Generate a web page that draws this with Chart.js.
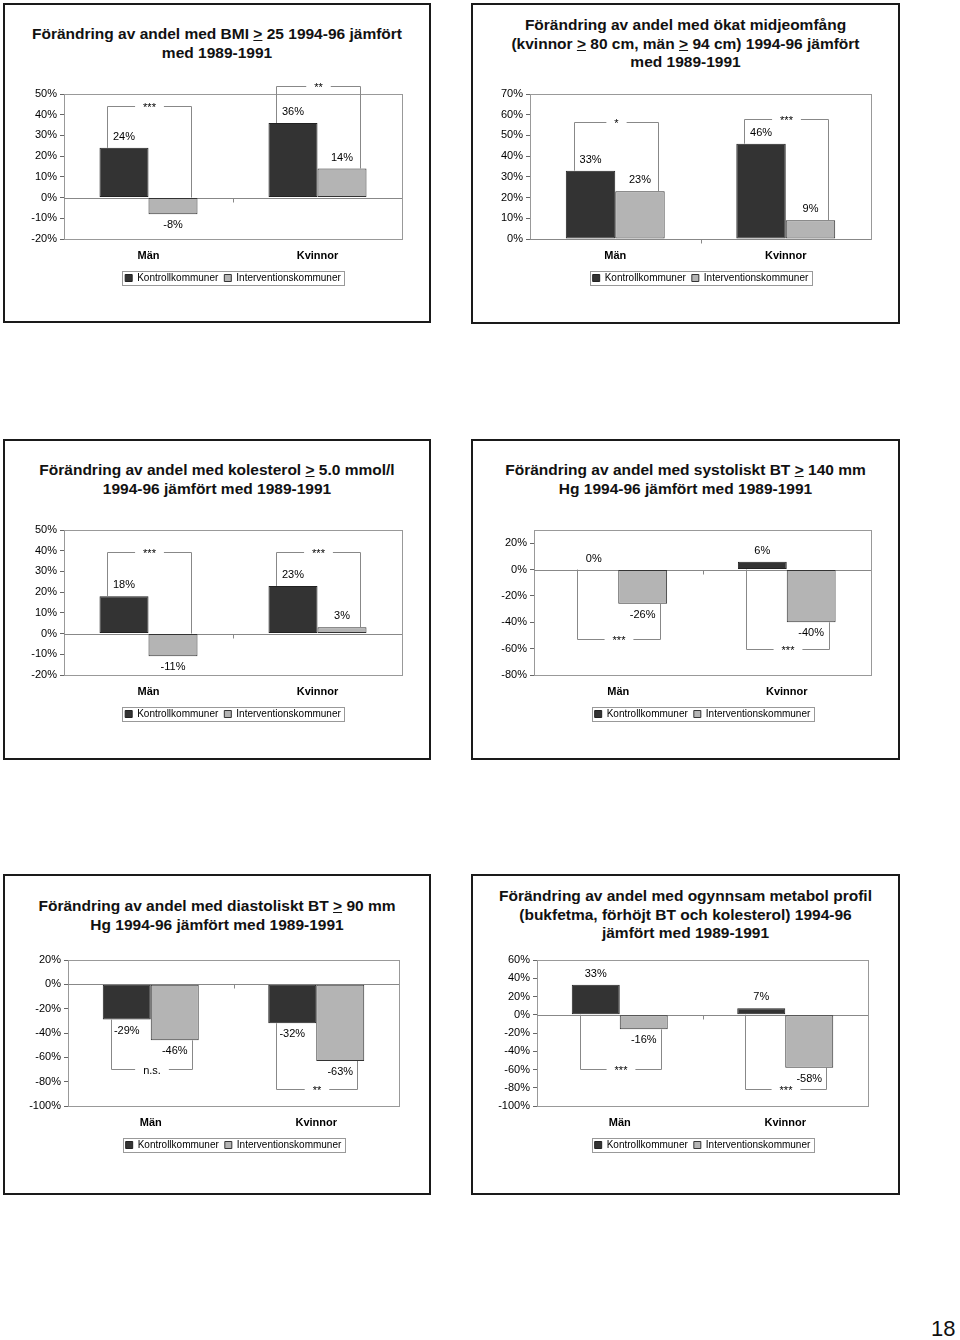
<!DOCTYPE html>
<html>
<head>
<meta charset="utf-8">
<script src="https://cdn.jsdelivr.net/npm/chart.js@4.4.1/dist/chart.umd.min.js"></script>
<style>
    body { margin: 0; background: #fff; width: 960px; height: 1340px; position: relative; overflow: hidden;
           font-family: "Liberation Sans", Arial, sans-serif; color: #111; }
    .panel { position: absolute; border: 2px solid #1a1a1a; box-sizing: border-box; }
    .title { position: absolute; text-align: center; font-weight: bold; font-size: 15.5px; line-height: 19px; }
    canvas { position: absolute; }
    .page { position: absolute; left: 931px; top: 1316px; font-size: 22px; }
</style>
</head>
<body>

<div class="panel" style="left:3px;top:3px;width:428px;height:320px"></div>
<div class="panel" style="left:471px;top:3px;width:429px;height:321px"></div>
<div class="panel" style="left:3px;top:439px;width:428px;height:321px"></div>
<div class="panel" style="left:471px;top:439px;width:429px;height:321px"></div>
<div class="panel" style="left:3px;top:874px;width:428px;height:321px"></div>
<div class="panel" style="left:471px;top:874px;width:429px;height:321px"></div>

<div class="title" style="left:3px;width:428px;top:24px">Förändring av andel med BMI <u>&gt;</u> 25 1994-96 jämfört<br>med 1989-1991</div>
<div class="title" style="left:471px;width:429px;top:16px;line-height:18.5px">Förändring av andel med ökat midjeomfång<br>(kvinnor <u>&gt;</u> 80 cm, män <u>&gt;</u> 94 cm) 1994-96 jämfört<br>med 1989-1991</div>
<div class="title" style="left:3px;width:428px;top:460px">Förändring av andel med kolesterol <u>&gt;</u> 5.0 mmol/l<br>1994-96 jämfört med 1989-1991</div>
<div class="title" style="left:471px;width:429px;top:460px">Förändring av andel med systoliskt BT <u>&gt;</u> 140 mm<br>Hg 1994-96 jämfört med 1989-1991</div>
<div class="title" style="left:3px;width:428px;top:896px">Förändring av andel med diastoliskt BT <u>&gt;</u> 90 mm<br>Hg 1994-96 jämfört med 1989-1991</div>
<div class="title" style="left:471px;width:429px;top:887px;line-height:18.5px">Förändring av andel med ogynnsam metabol profil<br>(bukfetma, förhöjt BT och kolesterol) 1994-96<br>jämfört med 1989-1991</div>

<canvas id="bmi"></canvas>
<canvas id="midja"></canvas>
<canvas id="kol"></canvas>
<canvas id="sys"></canvas>
<canvas id="dia"></canvas>
<canvas id="met"></canvas>

<div class="page">18</div>

<script>
const categories = ['Män', 'Kvinnor'];
const seriesNames = ['Kontrollkommuner', 'Interventionskommuner'];

// BMI >= 25
const bmiKontroll = [24, 36];
const bmiIntervention = [-8, 14];
const bmiTicks = [-20, -10, 0, 10, 20, 30, 40, 50];
const bmiSignif = ['***', '**'];
const bmiBracket = [44, 54];

// midjeomfång
const midjaKontroll = [33, 46];
const midjaIntervention = [23, 9];
const midjaTicks = [0, 10, 20, 30, 40, 50, 60, 70];
const midjaSignif = ['*', '***'];
const midjaBracket = [56.5, 58];

// kolesterol >= 5.0
const kolKontroll = [18, 23];
const kolIntervention = [-11, 3];
const kolTicks = [-20, -10, 0, 10, 20, 30, 40, 50];
const kolSignif = ['***', '***'];
const kolBracket = [39.5, 39.5];

// systoliskt BT >= 140
const sysKontroll = [0, 6];
const sysIntervention = [-26, -40];
const sysTicks = [-80, -60, -40, -20, 0, 20];
const sysSignif = ['***', '***'];
const sysBracket = [-53, -60.5];

// diastoliskt BT >= 90
const diaKontroll = [-29, -32];
const diaIntervention = [-46, -63];
const diaTicks = [-100, -80, -60, -40, -20, 0, 20];
const diaSignif = ['n.s.', '**'];
const diaBracket = [-69.5, -86];

// ogynnsam metabol profil
const metKontroll = [33, 7];
const metIntervention = [-16, -58];
const metTicks = [-100, -80, -60, -40, -20, 0, 20, 40, 60];
const metSignif = ['***', '***'];
const metBracket = [-59.5, -81.5];

const DARK = '#333333';
const LIGHT = '#b4b4b4';
const FONT = '"Liberation Sans", Arial, sans-serif';

Chart.defaults.font.family = FONT;
Chart.defaults.color = '#000';

// ram, nollinje, etiketter och signifikansklammer
const annotate = {
    id: 'annotate',
    afterLayout(chart) {
        // centrera förklaringen under diagramytan
        chart.legend.left += 30;
        chart.legend.right += 30;
    },
    beforeDatasetsDraw(chart) {
        const {ctx, chartArea: a, scales: {x, y}} = chart;
        const y0 = Math.round(y.getPixelForValue(0)) + 0.5;
        ctx.save();
        ctx.strokeStyle = '#999';
        ctx.lineWidth = 1;
        ctx.strokeRect(Math.round(a.left) + 0.5, Math.round(a.top) + 0.5, Math.round(a.width), Math.round(a.height));
        ctx.strokeStyle = '#888';
        ctx.beginPath();
        ctx.moveTo(a.left, y0);
        ctx.lineTo(a.right, y0);
        const mid = Math.round((x.getPixelForValue(0) + x.getPixelForValue(1)) / 2) + 0.5;
        ctx.moveTo(mid, y0);
        ctx.lineTo(mid, y0 + 4);
        ctx.stroke();
        ctx.restore();
    },
    afterDatasetsDraw(chart, args, opts) {
        const {ctx, scales: {y}} = chart;
        const y0 = y.getPixelForValue(0);
        const m0 = chart.getDatasetMeta(0).data;
        const m1 = chart.getDatasetMeta(1).data;
        ctx.save();
        ctx.fillStyle = '#000';
        ctx.font = '11px ' + FONT;
        ctx.textAlign = 'center';
        ctx.textBaseline = 'middle';

        chart.data.datasets.forEach((ds, d) => {
            chart.getDatasetMeta(d).data.forEach((bar, i) => {
                const v = ds.data[i];
                const ty = v > 0 ? bar.y - 11 : (v < 0 ? bar.y + 11 : y0 - 11);
                ctx.fillText(v + '%', bar.x, ty);
            });
        });

        ctx.strokeStyle = '#888';
        ctx.lineWidth = 1;
        opts.bracket.forEach((level, i) => {
            const b0 = m0[i], b1 = m1[i];
            const v0 = chart.data.datasets[0].data[i];
            const v1 = chart.data.datasets[1].data[i];
            const xl = Math.round(b0.x - b0.width / 2 + 8) + 0.5;
            const xr = Math.round(b1.x + b1.width / 2 - 7) + 0.5;
            const yl = Math.round(y.getPixelForValue(level)) + 0.5;
            const e0 = y.getPixelForValue(level > 0 ? Math.max(v0, 0) : Math.min(v0, 0));
            const e1 = y.getPixelForValue(level > 0 ? Math.max(v1, 0) : Math.min(v1, 0));
            const text = opts.signif[i];
            const mid = (xl + xr) / 2;
            const gap = ctx.measureText(text).width + 16;
            ctx.beginPath();
            ctx.moveTo(xl, e0);
            ctx.lineTo(xl, yl);
            ctx.lineTo(mid - gap / 2, yl);
            ctx.moveTo(mid + gap / 2, yl);
            ctx.lineTo(xr, yl);
            ctx.lineTo(xr, e1);
            ctx.stroke();
            ctx.fillText(text, mid, yl + 1);
        });
        ctx.restore();
    },
    afterDraw(chart) {
        const boxes = chart.legend.legendHitBoxes;
        if (!boxes || !boxes.length) return;
        const left = Math.min(...boxes.map(b => b.left)) - 3;
        const right = Math.max(...boxes.map(b => b.left + b.width)) + 3;
        const top = boxes[0].top - 2;
        const ctx = chart.ctx;
        ctx.save();
        ctx.strokeStyle = '#999';
        ctx.lineWidth = 1;
        ctx.strokeRect(Math.round(left) + 0.5, Math.round(top) + 0.5, Math.round(right - left), boxes[0].height + 4);
        ctx.restore();
    }
};

function makeChart(id, area, kontroll, intervention, ticks, yMax, signif, bracket) {
    const canvas = document.getElementById(id);
    const w = (area.right - area.left) + 120;
    const h = (area.bottom - area.top) + 14 + 54;
    canvas.width = w;
    canvas.height = h;
    canvas.style.width = w + 'px';
    canvas.style.height = h + 'px';
    canvas.style.left = (area.left - 60) + 'px';
    canvas.style.top = (area.top - 14) + 'px';

    return new Chart(canvas, {
        type: 'bar',
        data: {
            labels: categories,
            datasets: [{
                label: seriesNames[0],
                data: kontroll,
                backgroundColor: DARK,
                borderColor: '#222',
                borderWidth: 1,
                borderSkipped: false,
                categoryPercentage: 0.58,
                barPercentage: 1
            }, {
                label: seriesNames[1],
                data: intervention,
                backgroundColor: LIGHT,
                borderColor: '#333',
                borderWidth: 1,
                borderSkipped: false,
                categoryPercentage: 0.58,
                barPercentage: 1
            }]
        },
        options: {
            responsive: false,
            animation: false,
            devicePixelRatio: 1,
            layout: { padding: { top: 14, right: 60, left: 0, bottom: 0 } },
            plugins: {
                title: { display: false },
                tooltip: { enabled: false },
                legend: {
                    position: 'bottom',
                    labels: {
                        boxWidth: 7,
                        boxHeight: 7,
                        padding: 6,
                        color: '#000',
                        font: { size: 10 }
                    }
                },
                annotate: { signif: signif, bracket: bracket }
            },
            scales: {
                x: {
                    grid: { display: false, drawTicks: false },
                    border: { display: false },
                    ticks: { padding: 10, color: '#000', font: { size: 11, weight: 'bold' } },
                    afterFit: (scale) => { scale.height = 28; }
                },
                y: {
                    min: ticks[0],
                    max: yMax,
                    afterBuildTicks: (scale) => { scale.ticks = ticks.map(v => ({ value: v })); },
                    grid: { drawOnChartArea: false, drawTicks: true, tickLength: 4, color: '#666' },
                    border: { display: true, color: '#666' },
                    ticks: {
                        padding: 3,
                        color: '#000',
                        font: { size: 11 },
                        callback: (v) => v + '%'
                    },
                    afterFit: (scale) => { scale.width = 60; }
                }
            }
        },
        plugins: [annotate]
    });
}

document.addEventListener('DOMContentLoaded', function() {
    makeChart('bmi', {left: 64, right: 402, top: 94, bottom: 239}, bmiKontroll, bmiIntervention, bmiTicks, 50, bmiSignif, bmiBracket);
    makeChart('midja', {left: 530, right: 871, top: 94, bottom: 239}, midjaKontroll, midjaIntervention, midjaTicks, 70, midjaSignif, midjaBracket);
    makeChart('kol', {left: 64, right: 402, top: 530, bottom: 675}, kolKontroll, kolIntervention, kolTicks, 50, kolSignif, kolBracket);
    makeChart('sys', {left: 534, right: 871, top: 530, bottom: 675}, sysKontroll, sysIntervention, sysTicks, 30, sysSignif, sysBracket);
    makeChart('dia', {left: 68, right: 399, top: 960, bottom: 1106}, diaKontroll, diaIntervention, diaTicks, 20, diaSignif, diaBracket);
    makeChart('met', {left: 537, right: 868, top: 960, bottom: 1106}, metKontroll, metIntervention, metTicks, 60, metSignif, metBracket);
});
</script>
</body>
</html>
